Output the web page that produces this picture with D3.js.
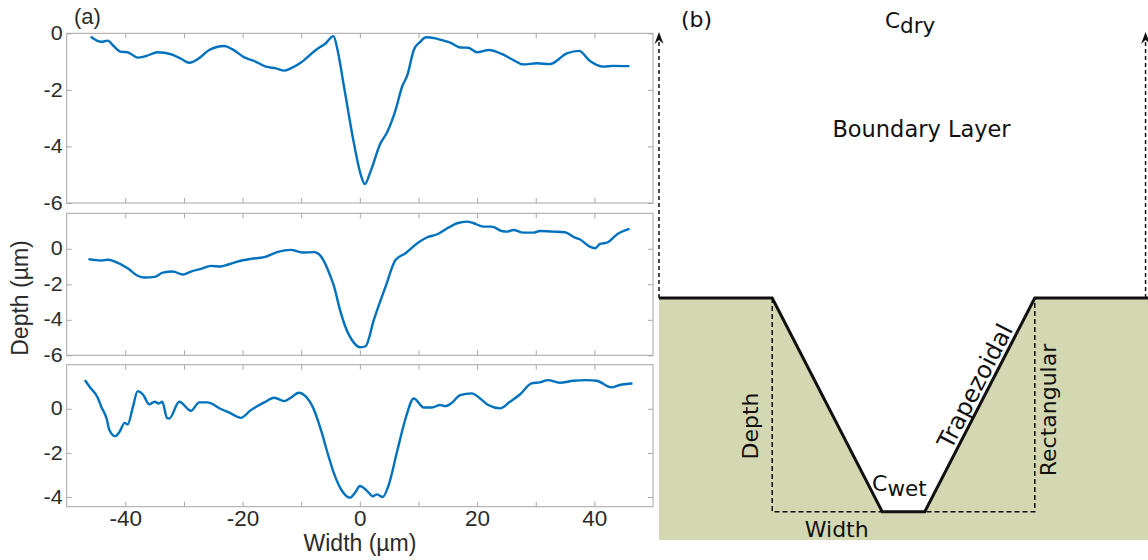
<!DOCTYPE html>
<html>
<head>
<meta charset="utf-8">
<script src="https://cdn.jsdelivr.net/npm/d3@7"></script>
<style>
  body { margin: 0; background: #fff; }
  svg { display: block; }
</style>
</head>
<body>
<script>
const W = 1148, H = 560;

// (a) measured profiles, width in µm, depth in µm
const widthA = [-45.9,-44.1,-43.0,-42.0,-40.8,-39.6,-37.9,-36.4,-34.5,-32.2,-30.5,-29.1,-27.1,-25.7,-23.1,-21.7,-19.7,-18.0,-16.0,-14.3,-12.9,-11.8,-10.1,-7.5,-5.8,-4.5,-3.8,-2.7,-1.0,0.1,0.85,1.8,3.5,4.7,6.1,7.2,8.1,9.2,10.3,11.3,12.9,14.3,15.4,17.1,18.5,20.0,22.0,24.2,26.2,27.9,30.2,32.4,35.3,37.4,39.2,41.5,43.2,46.0];
const depthA = [-0.12,-0.30,-0.26,-0.45,-0.65,-0.67,-0.86,-0.80,-0.67,-0.74,-0.90,-1.04,-0.83,-0.59,-0.45,-0.57,-0.85,-0.98,-1.18,-1.24,-1.32,-1.24,-1.04,-0.59,-0.35,-0.10,-0.60,-1.89,-3.90,-4.96,-5.33,-4.90,-3.90,-3.48,-2.71,-1.89,-1.48,-0.59,-0.30,-0.14,-0.18,-0.26,-0.33,-0.50,-0.51,-0.67,-0.59,-0.73,-0.95,-1.10,-1.06,-1.09,-0.71,-0.62,-0.97,-1.18,-1.15,-1.16];

const widthB = [-46.3,-44.1,-43.0,-41.8,-39.6,-37.9,-36.7,-35.0,-33.6,-31.9,-30.2,-28.8,-27.1,-25.4,-23.7,-22.6,-20.9,-18.6,-16.3,-14.1,-11.8,-9.8,-7.8,-6.7,-5.0,-4.4,-3.4,-2.7,-1.0,0.1,0.97,2.4,4.4,6.1,7.8,9.8,11.5,13.2,15.1,16.6,18.3,19.4,21.1,22.5,24.2,25.1,26.2,27.9,29.6,30.7,33.0,35.0,36.7,37.5,39.2,40.1,40.9,42.3,43.9,46.0];
const depthB = [-0.58,-0.66,-0.62,-0.72,-1.09,-1.52,-1.62,-1.58,-1.34,-1.28,-1.45,-1.28,-1.13,-0.96,-1.00,-0.90,-0.72,-0.57,-0.47,-0.19,-0.06,-0.21,-0.19,-0.40,-1.56,-2.12,-3.43,-4.18,-5.30,-5.55,-5.49,-3.99,-2.12,-0.62,-0.25,0.31,0.65,0.82,1.19,1.44,1.53,1.44,1.25,1.25,1.00,0.97,1.06,0.91,0.91,1.00,0.97,0.93,0.63,0.54,0.12,0.03,0.26,0.37,0.82,1.12];

const widthC = [-46.9,-46.1,-44.7,-44.1,-43.2,-42.7,-41.7,-41.0,-40.1,-39.6,-38.7,-37.9,-37.0,-35.9,-35.0,-34.3,-33.7,-32.9,-32.5,-30.8,-28.8,-27.4,-26.0,-23.7,-22.0,-20.3,-18.6,-16.3,-14.6,-12.9,-11.8,-10.4,-9.2,-8.1,-6.7,-5.4,-4.4,-3.0,-1.7,-0.73,0.0,1.26,2.2,2.95,3.9,4.9,6.4,7.8,9.2,10.9,12.3,13.7,14.6,15.7,17.1,19.1,20.5,21.9,23.9,25.6,27.3,29.3,30.7,32.1,34.1,36.4,38.7,40.4,42.9,44.3,46.5];
const depthC = [1.30,1.00,0.50,0.09,-0.44,-0.97,-1.24,-1.05,-0.64,-0.71,0.09,0.80,0.65,0.20,0.32,0.24,0.32,-0.41,-0.44,0.32,-0.09,0.29,0.29,-0.01,-0.21,-0.41,-0.06,0.29,0.50,0.35,0.50,0.73,0.55,0.12,-0.90,-2.10,-2.94,-3.74,-4.03,-3.77,-3.50,-3.73,-3.97,-3.88,-4.00,-3.47,-1.88,-0.44,0.47,0.06,0.06,0.17,0.12,0.27,0.62,0.70,0.47,0.17,0.02,0.32,0.65,1.15,1.20,1.30,1.18,1.27,1.30,1.27,0.97,1.08,1.15];

const widthTicks = [-40,-30,-20,-10,0,10,20,30,40];
const depthTicks = [-6,-4,-2,0];
const depthTicksC = [-4,-2,0];

// (b) schematic, x in [-1,1], depth 0 = surface, 1 = trench bottom
const trenchX = [-1, -0.537, -0.087, 0.087, 0.537, 1];
const trenchDepth = [0, 0, 1, 1, 0, 0];
const rectX = [-0.537, -0.537, 0.537, 0.537];
const rectDepth = [0, 1, 1, 0];
const arrowX = [-1, 0.99];
const arrowTop = -1.245;
const soilBottom = 1.132;

const svg = d3.select("body").append("svg")
    .attr("width", W)
    .attr("height", H);

const axisFont = "'Liberation Sans', Arial, sans-serif";
const schemFont = "'DejaVu Sans', Verdana, sans-serif";
const blue = "#0072bd";
const frameCol = "#a6a6a6";
const textCol = "#2b2b2b";

const xL = 66.7, xR = 653;
let x = d3.scaleLinear().domain([-50, 50]).range([xL, xR]);

let panels = [
    {w: widthA, d: depthA, top: 33.3, bottom: 203, dom: [-6, 0], ticks: depthTicks},
    {w: widthB, d: depthB, top: 213.3, bottom: 355.3, dom: [-6, 2], ticks: depthTicks},
    {w: widthC, d: depthC, top: 364.7, bottom: 506.7, dom: [-4.44, 2], ticks: depthTicksC}
];

panels.forEach((p, i) => {
    let y = d3.scaleLinear().domain(p.dom).range([p.bottom, p.top]);
    let g = svg.append("g");
    g.append("rect")
        .attr("x", xL).attr("y", p.top)
        .attr("width", xR - xL).attr("height", p.bottom - p.top)
        .attr("fill", "#fff");

    let last = i === panels.length - 1;
    let axes = [
        [d3.axisBottom(x).tickValues(widthTicks)
            .tickFormat(d => last && d % 20 === 0 ? String(d) : ""), `translate(0,${p.bottom})`],
        [d3.axisTop(x).tickValues(widthTicks).tickFormat(""), `translate(0,${p.top})`],
        [d3.axisLeft(y).tickValues(p.ticks).tickFormat(d => String(d)), `translate(${xL},0)`],
        [d3.axisRight(y).tickValues(p.ticks).tickFormat(""), `translate(${xR},0)`]
    ];
    axes.forEach(([a, tr], k) => {
        let ag = g.append("g")
            .attr("transform", tr)
            .call(a.tickSizeInner(-5).tickSizeOuter(0).tickPadding(k === 0 ? 3 : 4));
        ag.select(".domain").remove();
        ag.selectAll(".tick line").attr("stroke", frameCol);
        ag.selectAll("text")
            .attr("fill", textCol)
            .style("font-family", axisFont)
            .style("font-size", k === 0 ? "22.5px" : "21.5px");
        if (k === 2) {
            ag.selectAll("text").attr("transform", "scale(1,0.9)");
        }
    });

    g.append("rect")
        .attr("x", xL).attr("y", p.top)
        .attr("width", xR - xL).attr("height", p.bottom - p.top)
        .attr("fill", "none")
        .attr("stroke", frameCol)
        .attr("stroke-width", 1);

    let line = d3.line()
        .x((d, j) => x(p.w[j]))
        .y(d => y(d))
        .curve(d3.curveMonotoneX);
    g.append("path")
        .datum(p.d)
        .attr("d", line)
        .attr("fill", "none")
        .attr("stroke", blue)
        .attr("stroke-width", 2.4)
        .attr("stroke-linejoin", "round");
});

svg.append("text")
    .attr("x", 74).attr("y", 24)
    .attr("fill", textCol)
    .style("font-family", axisFont).style("font-size", "22px")
    .text("(a)");

svg.append("text")
    .attr("x", 360).attr("y", 551)
    .attr("text-anchor", "middle")
    .attr("fill", textCol)
    .style("font-family", axisFont).style("font-size", "23px")
    .text("Width (µm)");

svg.append("text")
    .attr("transform", "translate(28,298) rotate(-90)")
    .attr("text-anchor", "middle")
    .attr("fill", textCol)
    .style("font-family", axisFont).style("font-size", "23px")
    .text("Depth (µm)");

// ---- (b) schematic ----
let sx = d3.scaleLinear().domain([-1, 1]).range([659, 1148]);
let sy = d3.scaleLinear().domain([0, 1]).range([298, 511.7]);

svg.append("path")
    .datum(trenchX)
    .attr("d", d3.area()
        .x(d => sx(d))
        .y0((d, j) => sy(trenchDepth[j]))
        .y1(sy(soilBottom)))
    .attr("fill", "#d4d8b2");

svg.append("path")
    .datum(rectX)
    .attr("d", d3.line().x(d => sx(d)).y((d, j) => sy(rectDepth[j])))
    .attr("fill", "none")
    .attr("stroke", "#111")
    .attr("stroke-width", 1.5)
    .attr("stroke-dasharray", "5,3");

svg.append("path")
    .datum(trenchX)
    .attr("d", d3.line().x(d => sx(d)).y((d, j) => sy(trenchDepth[j])))
    .attr("fill", "none")
    .attr("stroke", "#111")
    .attr("stroke-width", 3)
    .attr("stroke-linejoin", "miter");

svg.selectAll(".arrow")
    .data(arrowX)
    .enter()
    .append("line")
    .attr("class", "arrow")
    .attr("x1", d => sx(d)).attr("x2", d => sx(d))
    .attr("y1", sy(0)).attr("y2", sy(arrowTop) + 3)
    .attr("stroke", "#111")
    .attr("stroke-width", 1.5)
    .attr("stroke-dasharray", "4,3");

svg.selectAll(".arrowhead")
    .data(arrowX)
    .enter()
    .append("path")
    .attr("class", "arrowhead")
    .attr("d", d => `M${sx(d) - 4.5},${sy(arrowTop) + 12} L${sx(d)},${sy(arrowTop)} L${sx(d) + 4.5},${sy(arrowTop) + 12} L${sx(d)},${sy(arrowTop) + 8} Z`)
    .attr("fill", "#111");

function schemText(t, x0, y0, rot, anchor) {
    return svg.append("text")
        .attr("transform", `translate(${x0},${y0}) rotate(${rot || 0})`)
        .attr("text-anchor", anchor || "start")
        .attr("fill", "#111")
        .style("font-family", schemFont)
        .style("font-size", "22px")
        .text(t);
}

schemText("(b)", 681, 26.5);
schemText("Boundary Layer", 921.5, 137, 0, "middle").style("font-size", "22.5px");

let cdry = schemText("C", 885, 28).style("font-size", "21.5px");
cdry.append("tspan").attr("dy", 5).text("dry");

let cwet = schemText("C", 872, 491).style("font-size", "22px");
cwet.append("tspan").attr("dy", 5).style("font-size", "21.5px").text("wet");

schemText("Width", 836.7, 537, 0, "middle");
schemText("Depth", 758, 426, -90, "middle");
schemText("Rectangular", 1056, 410, -90, "middle");

// label along the right trapezoid wall, just left of it
let bx0 = sx(trenchX[3]), by0 = sy(trenchDepth[3]);
let bx1 = sx(trenchX[4]), by1 = sy(trenchDepth[4]);
let ang = Math.atan2(by1 - by0, bx1 - bx0) * 180 / Math.PI;
let len = Math.hypot(bx1 - bx0, by1 - by0);
let ux = (bx1 - bx0) / len, uy = (by1 - by0) / len;
let tt = 0.56;
// right-hand normal of the wall direction is (-uy, ux) -> points down-right
let tx = bx0 + (bx1 - bx0) * tt - 4.5 * (-uy);
let ty = by0 + (by1 - by0) * tt - 4.5 * ux;
schemText("Trapezoidal", tx, ty, ang, "middle").style("font-size", "24px");
</script>
</body>
</html>
